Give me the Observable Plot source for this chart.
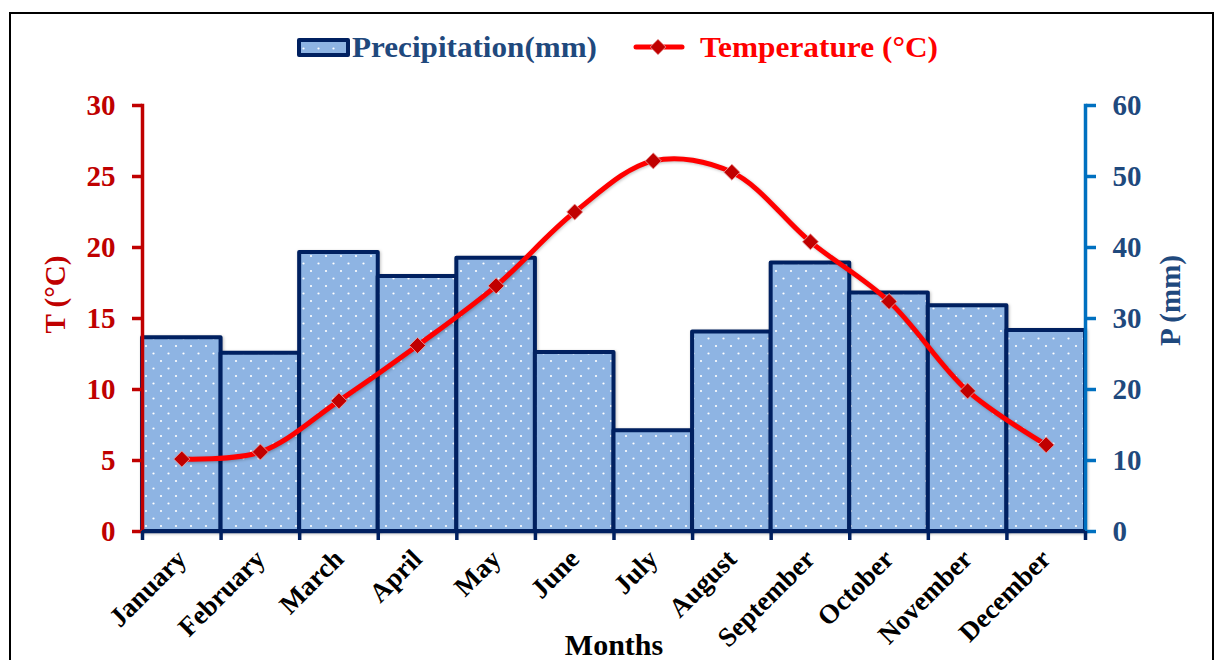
<!DOCTYPE html>
<html>
<head>
<meta charset="utf-8">
<script src="https://cdn.jsdelivr.net/npm/d3@7"></script>
<script src="https://cdn.jsdelivr.net/npm/@observablehq/plot@0.6"></script>
<style>
  html, body { margin: 0; padding: 0; background: #fff; overflow: hidden; }
  #page { position: relative; width: 1218px; height: 660px; overflow: hidden; font-family: "Liberation Serif", "Times New Roman", serif; }
  #frame { position: absolute; left: 9px; top: 12px; width: 1205px; height: 720px; border: 2.5px solid #000; box-sizing: border-box; }
  #legend { position: absolute; left: 0; top: 0; }
  #chart { position: absolute; left: 0; top: 80px; }
  #chart g[aria-label="bar"] rect { filter: drop-shadow(1.5px 1.5px 1.5px rgba(0,0,0,0.25)); }
  #chart g[aria-label="line"] path { filter: drop-shadow(1.5px 1.5px 1.5px rgba(0,0,0,0.25)); }
</style>
</head>
<body>
<div id="page">
  <div id="frame"></div>
  <svg id="legend" width="1218" height="80" xmlns="http://www.w3.org/2000/svg">
    <defs>
      <pattern id="dots" patternUnits="userSpaceOnUse" x="0" y="0" width="15" height="15">
        <rect width="15" height="15" fill="#8EB4E3"></rect>
        <circle cx="3.5" cy="3.5" r="1.1" fill="#ffffff"></circle>
        <circle cx="11" cy="11" r="1.1" fill="#ffffff"></circle>
      </pattern>
    </defs>
    <rect x="299" y="40" width="49" height="15" fill="url(#dots)" stroke="#002060" stroke-width="4" stroke-linejoin="round"></rect>
    <text x="352" y="57" font-family="Liberation Serif" font-weight="bold" font-size="29" fill="#1F497D" textLength="245" lengthAdjust="spacingAndGlyphs">Precipitation(mm)</text>
    <line x1="636" y1="47" x2="682" y2="47" stroke="#FF0000" stroke-width="5" stroke-linecap="round"></line>
    <rect x="652.5" y="41.5" width="11" height="11" fill="#C00000" stroke="#E8A0A0" stroke-width="0.8" transform="rotate(45 658 47)"></rect>
    <text x="700" y="57" font-family="Liberation Serif" font-weight="bold" font-size="29" fill="#FF0000" textLength="238" lengthAdjust="spacingAndGlyphs">Temperature (°C)</text>
  </svg>
  <div id="chart"></div>
</div>
<script>
// ---- data ----
const months = ["January", "February", "March", "April", "May", "June", "July", "August", "September", "October", "November", "December"];
const precipitation = [27.3, 25.1, 39.3, 35.9, 38.5, 25.2, 14.2, 28.1, 37.8, 33.6, 31.8, 28.3]; // mm
const temperature = [5.1, 5.6, 9.2, 13.1, 17.3, 22.5, 26.1, 25.3, 20.4, 16.2, 9.9, 6.1];     // °C
const tTicks = [0, 5, 10, 15, 20, 25, 30];   // left axis (°C)
const pTicks = [0, 10, 20, 30, 40, 50, 60];  // right axis (mm)
const pPerT = 2; // right axis scale: 60 mm ↔ 30 °C

const data = months.map((m, i) => ({month: m, p: precipitation[i], t: temperature[i]}));

const W = 1218, H = 580;
const mL = 142, mR = 133, mT = 25, mB = 129;
const band = (W - mL - mR) / months.length;

const chart = Plot.plot({
  width: W,
  height: H,
  marginLeft: mL,
  marginRight: mR,
  marginTop: mT,
  marginBottom: mB,
  style: {fontFamily: "Liberation Serif", fontWeight: "bold", background: "transparent", overflow: "visible"},
  x: {domain: months, padding: 0, round: false, label: null},
  y: {domain: [0, 30], label: null},
  marks: [
    Plot.barY(data, {x: "month", y: d => d.p / pPerT, fill: "url(#dots)", stroke: "#002060", strokeWidth: 4, strokeLinejoin: "round"}),
    // vertical axis lines
    Plot.frame({anchor: "left", stroke: "#C00000", strokeWidth: 3.5}),
    Plot.frame({anchor: "right", stroke: "#0070C0", strokeWidth: 3.5}),
    Plot.ruleY([0], {stroke: "#002060", strokeWidth: 3.5}),
    // left axis (T)
    Plot.axisY({anchor: "left", ticks: tTicks, tickSize: 10, tickPadding: 17, strokeWidth: 3.5, stroke: "#C00000", fill: "#C00000", fontSize: 29, fontWeight: "bold", label: null}),
    // right axis (P)
    Plot.axisY({anchor: "right", ticks: pTicks.map(v => v / pPerT), tickFormat: v => String(v * pPerT), tickSize: 10, tickPadding: 17, strokeWidth: 3.5, stroke: "#0070C0", fill: "#1F497D", fontSize: 29, fontWeight: "bold", label: null}),
    // x axis boundary ticks
    Plot.axisX({anchor: "bottom", ticks: months, tickSize: 9, dx: -band / 2, text: null, stroke: "#002060", strokeWidth: 3.5, label: null}),
    Plot.axisX({anchor: "bottom", ticks: [months[months.length - 1]], tickSize: 9, dx: band / 2, text: null, stroke: "#002060", strokeWidth: 3.5, label: null}),
    // x axis labels
    Plot.axisX({anchor: "bottom", tickSize: 0, tickPadding: 23, tickRotate: -45, fill: "#000", fontSize: 27, fontWeight: "bold", label: null}),
    // temperature line
    Plot.line(data, {x: "month", y: "t", stroke: "#FF0000", strokeWidth: 5, curve: "catmull-rom"}),
    Plot.dot(data, {x: "month", y: "t", symbol: "square", r: 6.4, rotate: 45, fill: "#C00000", stroke: "#E8A0A0", strokeWidth: 0.8}),
    // axis titles
    Plot.text(["T (°C)"], {text: d => d, frameAnchor: "left", textAnchor: "middle", lineAnchor: "middle", dx: -87, dy: -24, rotate: -90, fill: "#C00000", fontSize: 29, fontWeight: "bold"}),
    Plot.text(["P (mm)"], {text: d => d, frameAnchor: "right", textAnchor: "middle", lineAnchor: "middle", dx: 85, dy: -18, rotate: -90, fill: "#1F497D", fontSize: 29, fontWeight: "bold"}),
    Plot.text(["Months"], {text: d => d, frameAnchor: "bottom", textAnchor: "middle", lineAnchor: "middle", dy: 114, fill: "#000", fontSize: 30, fontWeight: "bold"})
  ]
});
document.getElementById("chart").appendChild(chart);
</script>
</body>
</html>
